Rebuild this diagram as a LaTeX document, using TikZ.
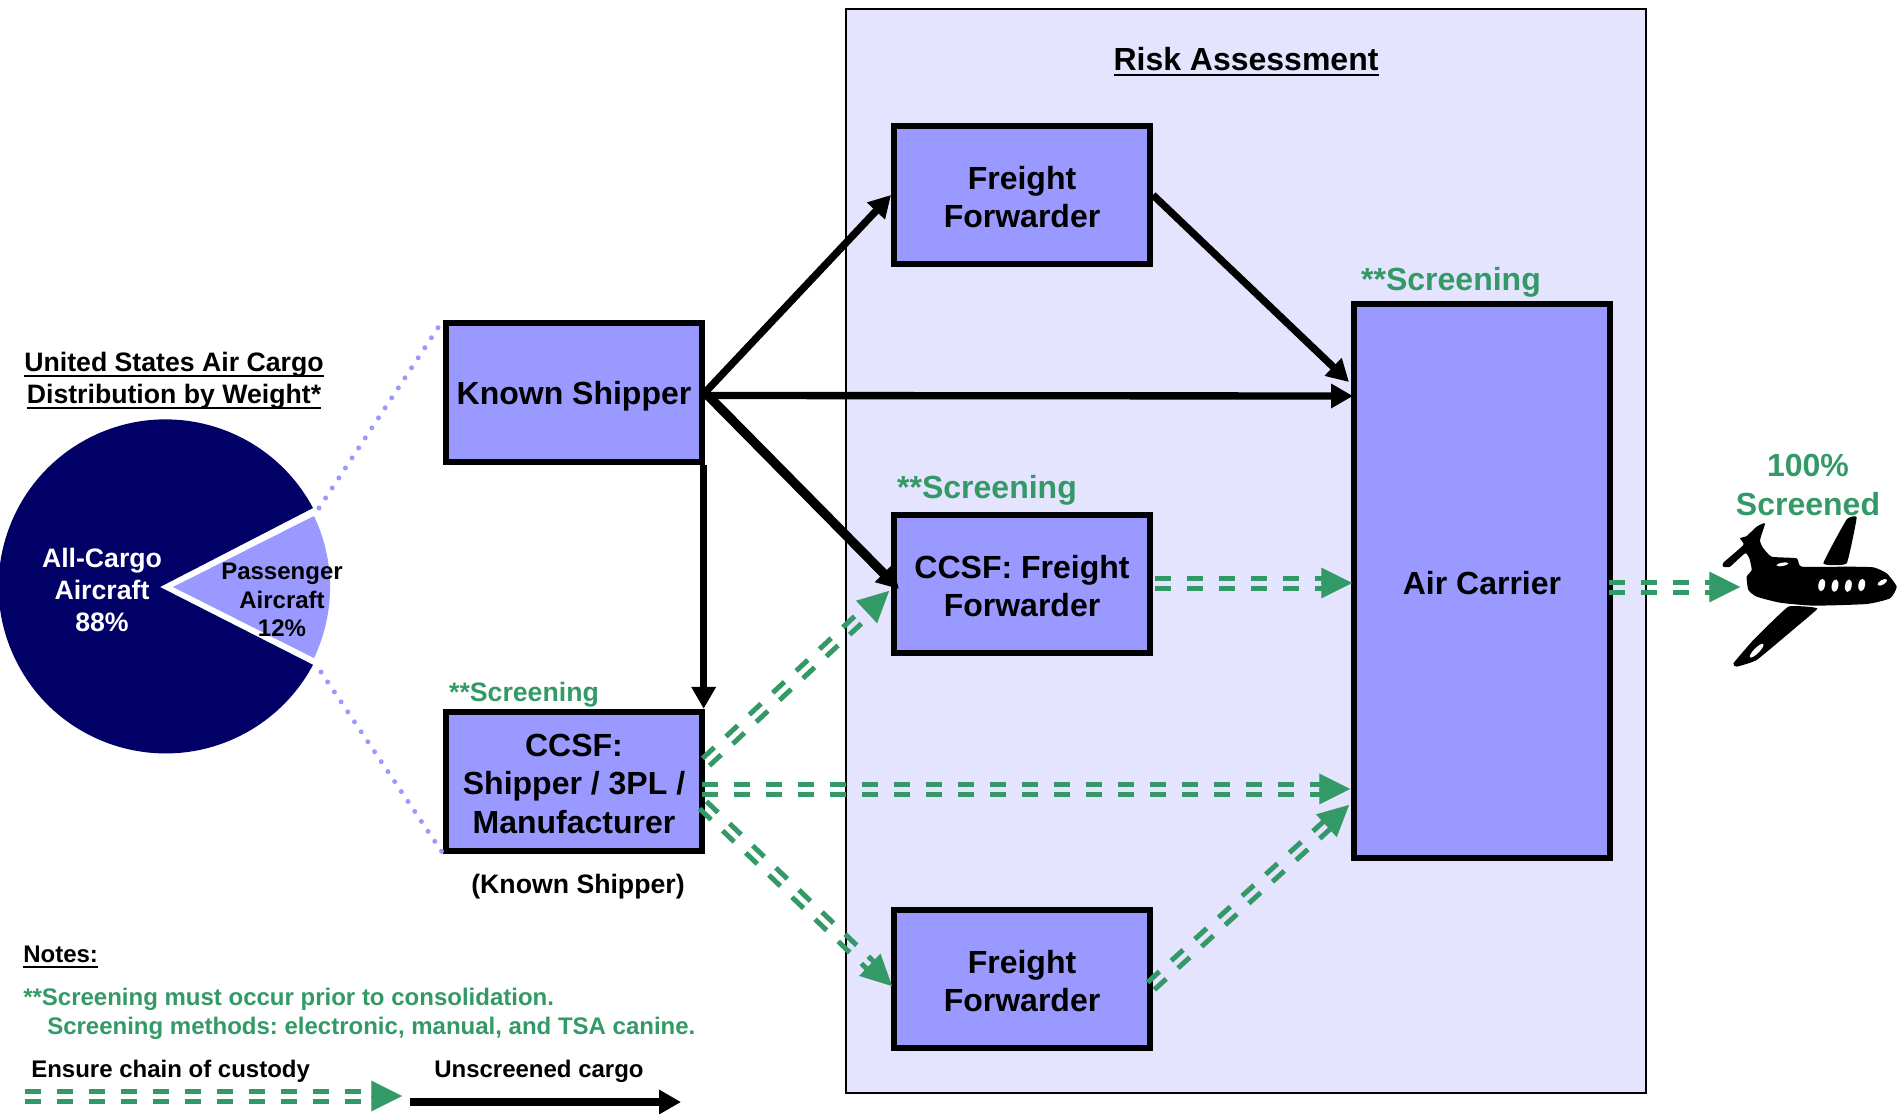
\documentclass[tikz,border=0pt]{standalone}
\usepackage{fontspec}
\setmainfont{Liberation Sans}
\usetikzlibrary{arrows.meta,calc}
\newcommand{\headul}[1]{\leavevmode\setbox0=\hbox{#1}\rlap{\vrule width\wd0 height-2.6pt depth4.2pt}\box0}
\newcommand{\topnudge}{\rule{0pt}{20.5pt}}
\definecolor{boxblue}{HTML}{9999FF}
\definecolor{panelblue}{HTML}{E4E4FF}
\definecolor{navypie}{HTML}{000066}
\definecolor{screengreen}{HTML}{339966}
\tikzset{
  procbox/.style={draw,fill=boxblue,line width=4.5pt,minimum width=192pt,minimum height=104pt,align=center,inner sep=0pt,font=\bfseries\fontsize{24}{29}\selectfont},
  plainlabel/.style={align=center,inner sep=0pt,font=\bfseries\fontsize{#1}{\dimexpr #1pt*6/5\relax}\selectfont},
  plainlabel/.default=18,
  greenlabel/.style={plainlabel=#1,text=screengreen},
  blackarrow/.style={draw,line width=5.5pt,-{Triangle[length=16.5pt,width=17.5pt]}},
  twinline/.style={draw=screengreen,line width=3.75pt,dash pattern=on 12pt off 12pt},
  twinhead/.style={draw=screengreen,fill=screengreen,line width=.1pt,-{Triangle[length=#1,width=#1,fill=screengreen]}},
  twinhead/.default=23pt,
  piedots/.style={draw=boxblue,line width=3.75pt,line cap=round,dash pattern=on 0pt off 9pt}
}
% two dashed strokes side by side and one head
\newcommand{\twinlink}[2]{%
  \coordinate (twinbase) at ($(#2)!22pt!(#1)$);
  \draw[twinline] ($(#1)!3.75pt!90:(#2)$) -- ($(twinbase)!3.75pt!90:(#2)$);
  \draw[twinline] ($(#1)!3.75pt!-90:(#2)$) -- ($(twinbase)!3.75pt!-90:(#2)$);
  \draw[twinhead] (twinbase) -- (#2);
}
\begin{document}
\frenchspacing
\begin{tikzpicture}[x=.75pt,y=-.75pt]
\useasboundingbox (0,0) rectangle (1897,1113);
\draw[fill=panelblue,line width=1.5pt] (846,9) rectangle (1646,1093);
\node[plainlabel=24] (riskhead) at (1246,62) {\headul{Risk Assessment}};
% pie
\fill[navypie] (160,587) -- (313,508) arc[start angle=28,end angle=332,radius=125.25pt] -- cycle;
\fill[boxblue] (173,587) -- (314,516) arc[start angle=25.5,end angle=-25.5,radius=123.75pt] -- cycle;
\node[plainlabel=20] (piehead) at (174,381) {\headul{United States Air Cargo}\\\headul{Distribution by Weight*}};
\node[plainlabel=20,text=white] (allcargo) at (102,590) {All-Cargo\\Aircraft\\88\%};
\node[plainlabel=18] (passenger) at (282,600) {Passenger\\Aircraft\\12\%};
\coordinate (pieupper) at (319,508);
\coordinate (pielower) at (321,672);
% boxes
\node[procbox,text depth=0pt] (known) at (574,392.5) {Known Shipper};
\node[procbox] (ccsfship) [below of=known,node distance=291.5pt] {\topnudge CCSF:\\Shipper / 3PL /\\Manufacturer};
\node[procbox] (fftop) at (1022,195) {\topnudge Freight\\Forwarder};
\node[procbox] (ccsfff) [below of=fftop,node distance=291.75pt] {\topnudge CCSF: Freight\\Forwarder};
\node[procbox] (ffbot) [below of=ccsfff,node distance=296.25pt] {\topnudge Freight\\Forwarder};
\node[procbox,minimum height=415.5pt] (air) at (1482,581) {\topnudge Air Carrier};
\node[greenlabel=24] (screenair) at (1451,282) {**Screening};
\node[greenlabel=24] (screenff) at (987,490) {**Screening};
\node[greenlabel=20] (screenship) at (524,695) {**Screening};
\node[plainlabel=20] (knownnote) at (578,887) {(Known Shipper)};
\node[greenlabel=24] (hundred) at (1808,485) {100\%\\Screened};
% dotted lines
\draw[piedots] (pieupper) -- (known.north west);
\draw[piedots] (pielower) -- (ccsfship.south west);
% unscreened cargo
\coordinate (airknown) at (1353,396);
\coordinate (airfftop) at (1349,382);
\coordinate (ffinner) at (899,589);
\draw[blackarrow] (known.east) -- (fftop.west);
\draw[blackarrow] (fftop.east) -- (airfftop);
\draw[blackarrow] (known.east) ++(0,3) -- (airknown);
\draw[blackarrow,line width=7pt] (known.east) -- (ffinner);
\draw[blackarrow] ([xshift=-1pt]known.south east) -- ([xshift=-1pt]ccsfship.north east);
% chain of custody
\coordinate (shipupper) at (706,762);
\coordinate (shiplower) at (703,805);
\coordinate (ffmiddle) at (889,591);
\coordinate (airmiddle) at (1350,789);
\coordinate (airlower) at (1349,805);
\coordinate (ffbotleft) at (892,986);
\coordinate (ffbotright) at (1151,986);
\coordinate (shipmiddle) at (702,789);
\coordinate (airscreen) at (1352,583);
\coordinate (ffscreen) at (1155,583);
\coordinate (airright) at (1609,587);
\coordinate (planenose) at (1740,587);
\twinlink{shipupper}{ffmiddle}
\twinlink{shipmiddle}{airmiddle}
\twinlink{shiplower}{ffbotleft}
\twinlink{ffbotright}{airlower}
\twinlink{ffscreen}{airscreen}
\twinlink{airright}{planenose}
% plane
\begin{scope}[shift={(1580,430)},x=.25pt,y=-.25pt]
\fill[black] plot[smooth cycle,tension=.3] coordinates {(555,280) (540,330) (548,352) (575,380) (650,385) (665,410) (800,410) (880,412) (920,430) (950,470) (930,505) (860,522) (700,527) (600,518) (530,500) (505,480) (500,440) (515,420) (508,385) (495,370) (450,410) (430,410) (430,398) (490,345) (480,325) (500,318) (530,290)};
\fill[black] plot[smooth cycle,tension=.2] coordinates {(830,262) (800,400) (730,400) (800,268)};
\fill[black] plot[smooth cycle,tension=.2] coordinates {(625,530) (712,535) (650,590) (530,690) (470,710) (460,700) (520,630)};
\foreach \wx/\wy in {725/465,765/467,805/467,845/465}
  \fill[white,rotate around={-10:(\wx,\wy)}] (\wx,\wy) ellipse [x radius=2.5pt,y radius=4.75pt];
\fill[white,rotate around={30:(907,457)}] (907,457) ellipse [x radius=4pt,y radius=1.75pt];
\fill[white,rotate around={45:(530,662)}] (530,662) ellipse [x radius=7pt,y radius=2pt];
\fill[white,rotate around={10:(607,403)}] (607,403) ellipse [x radius=4.5pt,y radius=1.25pt];
\end{scope}
% notes
\node[plainlabel=18,anchor=west] (noteshead) at (23,957) {\headul{Notes:}};
\node[greenlabel=18,anchor=west] (noteone) at (23,999) {**Screening must occur prior to consolidation.};
\node[greenlabel=18,anchor=west] (notetwo) at (47,1028) {Screening methods: electronic, manual, and TSA canine.};
\node[plainlabel=18,anchor=west] (ensure) at (31,1071) {Ensure chain of custody};
\node[plainlabel=18,anchor=west] (unscreened) at (434,1071) {Unscreened cargo};
\coordinate (ensurestart) at (25,1096);
\coordinate (ensureend) at (402,1096);
\coordinate (unscreenstart) at (410,1102);
\coordinate (unscreenend) at (681,1102);
\twinlink{ensurestart}{ensureend}
\draw[blackarrow,line width=6.5pt] (unscreenstart) -- (unscreenend);
\end{tikzpicture}
\end{document}
